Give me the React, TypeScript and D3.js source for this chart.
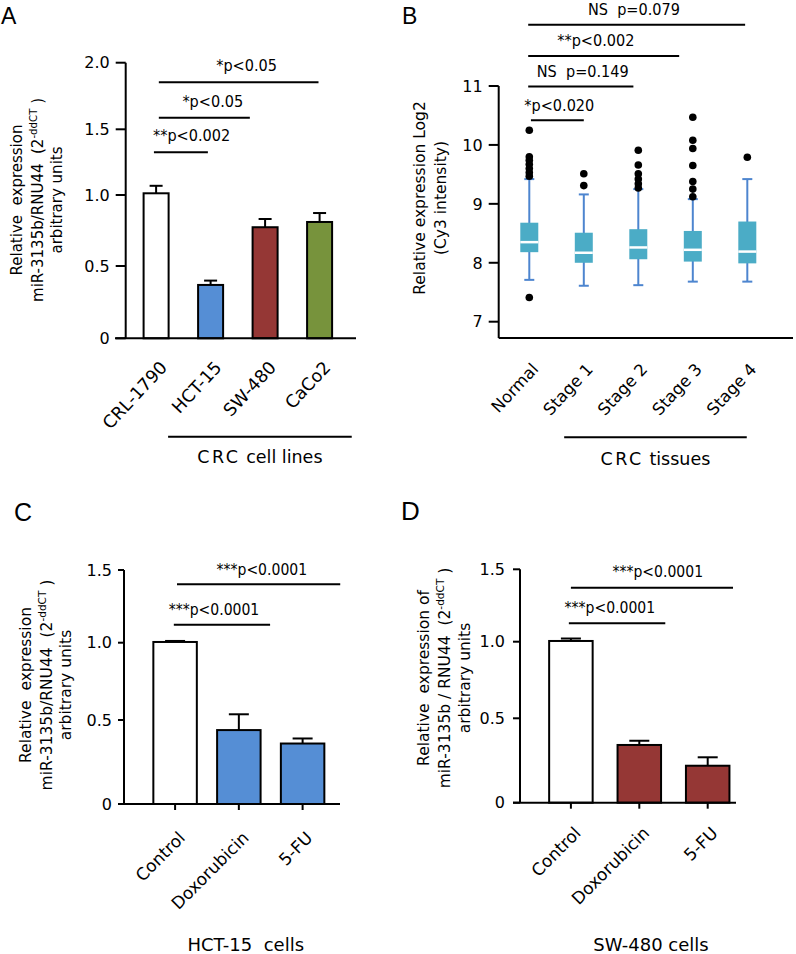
import React from "react";
import * as d3 from "d3";

const FONT = "'DejaVu Sans', Verdana, sans-serif";

// ---------- Panel A data ----------
const catsA = ["CRL-1790", "HCT-15", "SW-480", "CaCo2"];
const meanA = [1.013, 0.369, 0.773, 0.81];
const errA = [0.057, 0.03, 0.058, 0.063];
const ticksA = [0, 0.5, 1, 1.5, 2];
const tickLabelsA = ["0", "0.5", "1.0", "1.5", "2.0"];
const sigA = [
  { label: "**p<0.002", level: 1.325, x1: -0.04, x2: 0.95, tx: 0.65 },
  { label: "*p<0.05", level: 1.587, x1: 0.05, x2: 1.72, tx: 1.04 },
  { label: "*p<0.05", level: 1.853, x1: 0.05, x2: 2.98, tx: 1.66 },
];
const groupA = { abbr: "CRC", rest: " cell lines", x1: 0.22, x2: 3.59 };

// ---------- Panel B data ----------
const stagesB = ["Normal", "Stage 1", "Stage 2", "Stage 3", "Stage 4"];
const whiskLoB = [7.71, 7.61, 7.62, 7.68, 7.68];
const q1B = [8.18, 8.0, 8.06, 8.02, 7.99];
const medianB = [8.35, 8.17, 8.26, 8.22, 8.19];
const q3B = [8.68, 8.51, 8.57, 8.54, 8.7];
const whiskHiB = [9.42, 9.16, 9.25, 9.08, 9.42];
const outliersNormal = [10.25, 9.8, 9.74, 9.67, 9.6, 9.53, 9.47, 7.41];
const outliersStage1 = [9.51, 9.31];
const outliersStage2 = [9.91, 9.66, 9.51, 9.42, 9.34, 9.27];
const outliersStage3 = [10.47, 10.08, 9.94, 9.65, 9.38, 9.25, 9.12];
const outliersStage4 = [9.79];
const outliersB = [outliersNormal, outliersStage1, outliersStage2, outliersStage3, outliersStage4];
const ticksB = [7, 8, 9, 10, 11];
const sigB = [
  { label: "*p<0.020", level: 10.42, x1: 0.03, x2: 1.0, tx: 0.55 },
  { label: "NS  p=0.149", level: 10.99, x1: -0.02, x2: 1.91, tx: 0.98 },
  { label: "**p<0.002", level: 11.51, x1: -0.02, x2: 2.75, tx: 1.22 },
  { label: "NS  p=0.079", level: 12.04, x1: -0.02, x2: 3.96, tx: 1.92 },
];
const groupB = { abbr: "CRC", rest: " tissues", x1: 0.64, x2: 3.99 };

// ---------- Panel C data ----------
const catsC = ["Control", "Doxorubicin", "5-FU"];
const meanC = [1.005, 0.44, 0.36];
const errC = [0.007, 0.097, 0.03];
const ticksCD = [0, 0.5, 1, 1.5];
const tickLabelsCD = ["0", "0.5", "1.0", "1.5"];
const sigC = [
  { label: "***p<0.0001", level: 1.124, x1: -0.02, x2: 1.49, tx: 0.61 },
  { label: "***p<0.0001", level: 1.402, x1: 0.03, x2: 2.59, tx: 1.36 },
];

// ---------- Panel D data ----------
const catsD = ["Control", "Doxorubicin", "5-FU"];
const meanD = [1.005, 0.342, 0.219];
const errD = [0.017, 0.025, 0.05];
const sigD = [
  { label: "***p<0.0001", level: 1.127, x1: -0.03, x2: 1.38, tx: 0.57 },
  { label: "***p<0.0001", level: 1.373, x1: 0.0, x2: 2.37, tx: 1.27 },
];

// ---------- colours ----------
const WHITE = "#ffffff";
const BLUE = "#558ED5";
const RED = "#953735";
const GREEN = "#77933C";
const TEAL = "#4BACC6";
const WHISK = "#4D85CF";

type Sig = { label: string; level: number; x1: number; x2: number; tx: number };

function SigLines({ sigs, idx, y, gap, fs }: { sigs: Sig[]; idx: (v: number) => number; y: (v: number) => number; gap: number; fs: number }) {
  return (
    <g>
      {sigs.map((s, i) => (
        <g key={i}>
          <line x1={idx(s.x1)} x2={idx(s.x2)} y1={y(s.level)} y2={y(s.level)} stroke="#000" strokeWidth={2} />
          <text
            transform={`translate(${idx(s.tx)},${y(s.level) - gap}) scale(1,1.12)`}
            textAnchor="middle"
            fontSize={fs}
            fontFamily={FONT}
            style={{ whiteSpace: "pre" }}
          >
            {s.label}
          </text>
        </g>
      ))}
    </g>
  );
}

function YAxis({ x, y, ticks, labels, tickLen, fs, gap, top, bottom }: any) {
  return (
    <g>
      <line x1={x} x2={x} y1={top} y2={bottom} stroke="#000" strokeWidth={2} />
      {ticks.map((t: number, i: number) => (
        <g key={i}>
          <line x1={x - tickLen} x2={x} y1={y(t)} y2={y(t)} stroke="#000" strokeWidth={2} />
          <text x={x - tickLen - gap} y={y(t)} dy="0.36em" textAnchor="end" fontSize={fs} fontFamily={FONT}>
            {labels[i]}
          </text>
        </g>
      ))}
    </g>
  );
}

function BarPanel({ cats, means, errs, fills, x, y, capW, catDx, catDy, axisY, catFs, angle }: any) {
  const bw = x.bandwidth();
  return (
    <g>
      {cats.map((c: string, i: number) => {
        const cx = x(c) + bw / 2;
        return (
          <g key={c}>
            <line x1={cx} x2={cx} y1={y(means[i])} y2={y(means[i] + errs[i])} stroke="#000" strokeWidth={2} />
            <line x1={cx - capW / 2} x2={cx + capW / 2} y1={y(means[i] + errs[i])} y2={y(means[i] + errs[i])} stroke="#000" strokeWidth={2} />
            <rect x={x(c)} y={y(means[i])} width={bw} height={y(0) - y(means[i])} fill={fills[i]} stroke="#000" strokeWidth={2} />
            <text
              transform={`translate(${cx + catDx},${axisY + catDy}) rotate(${-angle})`}
              textAnchor="end"
              fontSize={catFs}
              fontFamily={FONT}
            >
              {c}
            </text>
          </g>
        );
      })}
    </g>
  );
}

function YLabel({ x, cy, lines, fs, sup }: { x: number[]; cy: number; lines: string[]; fs: number; sup: number }) {
  return (
    <g>
      {lines.map((l, i) => (
        <text
          key={i}
          transform={`translate(${x[i]},${cy}) rotate(-90)`}
          textAnchor="middle"
          fontSize={fs}
          fontFamily={FONT}
          style={{ whiteSpace: "pre" }}
        >
          {i === sup ? (
            <>
              <tspan>{l}</tspan>
              <tspan dy={-6} fontSize={fs * 0.68}>-ddCT</tspan>
              <tspan dy={6}> )</tspan>
            </>
          ) : (
            l
          )}
        </text>
      ))}
    </g>
  );
}

export default function App() {
  // ---------- scales ----------
  const yA = d3.scaleLinear().domain(ticksA).range([338.3, 266, 195, 129.3, 62.7]);
  const xA = d3.scaleBand().domain(catsA).range([143.6, 332.1]).paddingInner(0.541).paddingOuter(0);
  const idxA = d3.scaleLinear().domain([0, catsA.length - 1]).range([xA(catsA[0])! + xA.bandwidth() / 2, xA(catsA[catsA.length - 1])! + xA.bandwidth() / 2]);

  const yB = d3.scaleLinear().domain([7, 11]).range([321.7, 86]);
  const xB = d3.scaleBand().domain(stagesB).range([520.3, 756.3]).paddingInner(0.67).paddingOuter(0);
  const idxB = d3.scaleLinear().domain([0, stagesB.length - 1]).range([xB(stagesB[0])! + xB.bandwidth() / 2, xB(stagesB[stagesB.length - 1])! + xB.bandwidth() / 2]);

  const yC = d3.scaleLinear().domain(ticksCD).range([804, 720, 642.7, 570]);
  const xC = d3.scaleBand().domain(catsC).range([153.35, 324.35]).paddingInner(0.318).paddingOuter(0);
  const idxC = d3.scaleLinear().domain([0, catsC.length - 1]).range([xC(catsC[0])! + xC.bandwidth() / 2, xC(catsC[catsC.length - 1])! + xC.bandwidth() / 2]);

  const yD = d3.scaleLinear().domain(ticksCD).range([802.7, 718.3, 641.7, 569.3]);
  const xD = d3.scaleBand().domain(catsD).range([549.15, 729.45]).paddingInner(0.364).paddingOuter(0);
  const idxD = d3.scaleLinear().domain([0, catsD.length - 1]).range([xD(catsD[0])! + xD.bandwidth() / 2, xD(catsD[catsD.length - 1])! + xD.bandwidth() / 2]);

  const bwB = xB.bandwidth();
  const LETTER = "'Liberation Sans', Arial, sans-serif";

  return (
    <svg width={796} height={954} style={{ position: "absolute", left: 0, top: 0, background: "#fff" }}>
      <rect x={0} y={0} width={796} height={954} fill="#fff" />
      {/* Panel letters */}
      <text x={1} y={23.5} fontSize={23} fontFamily={LETTER}>A</text>
      <text x={402} y={23.5} fontSize={23} fontFamily={LETTER}>B</text>
      <text x={14} y={521} fontSize={25} fontFamily={LETTER}>C</text>
      <text x={401} y={520} fontSize={26} fontFamily={LETTER}>D</text>

      {/* ---------------- Panel A ---------------- */}
      <YLabel x={[22, 43, 61.5]} cy={200} lines={["Relative  expression", "miR-3135b/RNU44  (2", "arbitrary units"]} fs={15} sup={1} />
      <BarPanel cats={catsA} means={meanA} errs={errA} fills={[WHITE, BLUE, RED, GREEN]} x={xA} y={yA} capW={13} catDx={12} catDy={30} axisY={yA(0)} catFs={17.5} angle={47} />
      <YAxis x={125.7} y={yA} ticks={ticksA} labels={tickLabelsA} tickLen={10} fs={16} gap={6} top={yA(2)} bottom={yA(0)} />
      <line x1={115} x2={356} y1={yA(0)} y2={yA(0)} stroke="#000" strokeWidth={2} />
      <SigLines sigs={sigA} idx={idxA} y={yA} gap={11} fs={14.5} />
      <line x1={idxA(groupA.x1)} x2={idxA(groupA.x2)} y1={436.7} y2={436.7} stroke="#000" strokeWidth={2} />
      <text x={(idxA(groupA.x1) + idxA(groupA.x2)) / 2} y={463} textAnchor="middle" fontSize={17.5} fontFamily={FONT} style={{ whiteSpace: "pre" }}>
        <tspan letterSpacing={2.5}>{groupA.abbr}</tspan>
        <tspan>{groupA.rest}</tspan>
      </text>

      {/* ---------------- Panel B ---------------- */}
      <YLabel x={[425, 446]} cy={198} lines={["Relative expression Log2", "(Cy3 intensity)"]} fs={15.5} sup={-1} />
      {stagesB.map((s, i) => {
        const cx = xB(s)! + bwB / 2;
        return (
          <g key={s}>
            <line x1={cx} x2={cx} y1={yB(whiskLoB[i])} y2={yB(whiskHiB[i])} stroke={WHISK} strokeWidth={2} />
            <line x1={cx - 5} x2={cx + 5} y1={yB(whiskLoB[i])} y2={yB(whiskLoB[i])} stroke={WHISK} strokeWidth={2} />
            <line x1={cx - 5} x2={cx + 5} y1={yB(whiskHiB[i])} y2={yB(whiskHiB[i])} stroke={WHISK} strokeWidth={2} />
            <rect x={xB(s)} y={yB(q3B[i])} width={bwB} height={yB(q1B[i]) - yB(q3B[i])} fill={TEAL} />
            <line x1={xB(s)} x2={xB(s)! + bwB} y1={yB(medianB[i])} y2={yB(medianB[i])} stroke="#fff" strokeWidth={2.5} />
            {outliersB[i].map((o, j) => (
              <circle key={j} cx={cx} cy={yB(o)} r={3.8} fill="#000" />
            ))}
            <text transform={`translate(${cx + 10},${338 + 32}) rotate(-47)`} textAnchor="end" fontSize={16.5} fontFamily={FONT}>
              {s}
            </text>
          </g>
        );
      })}
      <YAxis x={498.7} y={yB} ticks={ticksB} labels={ticksB.map(String)} tickLen={10} fs={16} gap={6} top={yB(11)} bottom={338} />
      <line x1={498.7} x2={793} y1={338} y2={338} stroke="#000" strokeWidth={2} />
      <SigLines sigs={sigB} idx={idxB} y={yB} gap={9.5} fs={14.5} />
      <line x1={idxB(groupB.x1)} x2={idxB(groupB.x2)} y1={437.3} y2={437.3} stroke="#000" strokeWidth={2} />
      <text x={(idxB(groupB.x1) + idxB(groupB.x2)) / 2} y={465} textAnchor="middle" fontSize={17.5} fontFamily={FONT} style={{ whiteSpace: "pre" }}>
        <tspan letterSpacing={2.5}>{groupB.abbr}</tspan>
        <tspan>{groupB.rest}</tspan>
      </text>

      {/* ---------------- Panel C ---------------- */}
      <YLabel x={[31, 52, 71]} cy={685} lines={["Relative  expression", "miR-3135b/RNU44  (2", "arbitrary units"]} fs={15.5} sup={1} />
      <BarPanel cats={catsC} means={meanC} errs={errC} fills={[WHITE, BLUE, BLUE]} x={xC} y={yC} capW={20} catDx={11} catDy={35} axisY={yC(0)} catFs={17} angle={45} />
      <YAxis x={124} y={yC} ticks={ticksCD} labels={tickLabelsCD} tickLen={6} fs={16} gap={6} top={yC(1.5)} bottom={yC(0)} />
      <line x1={118} x2={340} y1={yC(0)} y2={yC(0)} stroke="#000" strokeWidth={2} />
      {catsC.map((c) => (
        <line key={c} x1={xC(c)! + xC.bandwidth() / 2} x2={xC(c)! + xC.bandwidth() / 2} y1={yC(0)} y2={yC(0) + 6} stroke="#000" strokeWidth={2} />
      ))}
      <SigLines sigs={sigC} idx={idxC} y={yC} gap={9.5} fs={14} />
      <text x={245.7} y={950.7} textAnchor="middle" fontSize={18} fontFamily={FONT} style={{ whiteSpace: "pre" }}>HCT-15  cells</text>

      {/* ---------------- Panel D ---------------- */}
      <YLabel x={[429, 450, 470]} cy={678} lines={["Relative  expression of", "miR-3135b / RNU44  (2", "arbitrary units"]} fs={15.5} sup={1} />
      <BarPanel cats={catsD} means={meanD} errs={errD} fills={[WHITE, RED, RED]} x={xD} y={yD} capW={20} catDx={11} catDy={31.5} axisY={yD(0)} catFs={17} angle={45} />
      <YAxis x={520} y={yD} ticks={ticksCD} labels={tickLabelsCD} tickLen={7} fs={16} gap={8} top={yD(1.5)} bottom={yD(0)} />
      <line x1={513} x2={736} y1={yD(0)} y2={yD(0)} stroke="#000" strokeWidth={2} />
      {catsD.map((c) => (
        <line key={c} x1={xD(c)! + xD.bandwidth() / 2} x2={xD(c)! + xD.bandwidth() / 2} y1={yD(0)} y2={yD(0) + 6} stroke="#000" strokeWidth={2} />
      ))}
      <SigLines sigs={sigD} idx={idxD} y={yD} gap={10.5} fs={14} />
      <text x={651} y={950.7} textAnchor="middle" fontSize={18} fontFamily={FONT} style={{ whiteSpace: "pre" }}>SW-480 cells</text>
    </svg>
  );
}
